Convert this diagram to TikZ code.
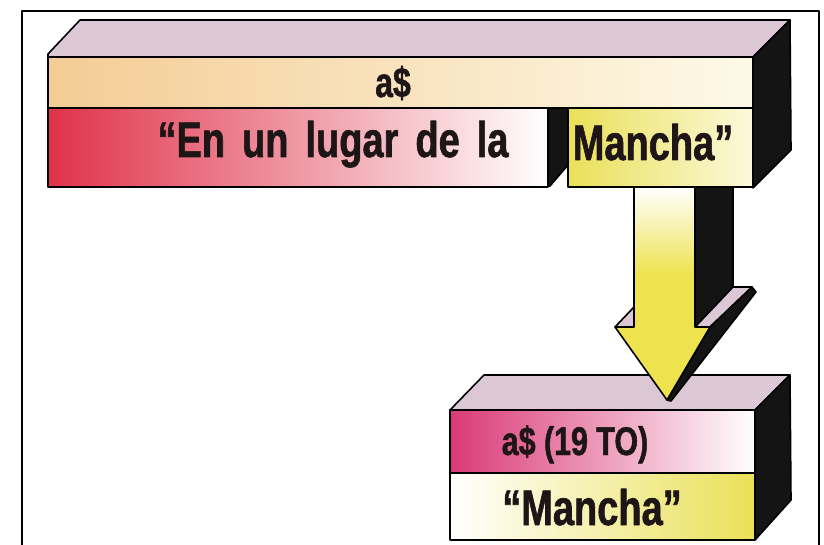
\documentclass[tikz,border=0pt]{standalone}
\usepackage{fontspec}
\newfontfamily\cond[FakeStretch=0.76,FakeBold=1.2]{Liberation Sans}
\definecolor{lidc}{RGB}{220,200,212}
\definecolor{peach}{RGB}{244,204,148}
\definecolor{cream}{RGB}{253,250,232}
\definecolor{redc}{RGB}{224,50,74}
\definecolor{redm}{RGB}{232,105,130}
\definecolor{yelc}{RGB}{234,224,88}
\definecolor{yelp}{RGB}{251,249,220}
\definecolor{magc}{RGB}{218,58,118}
\definecolor{magm}{RGB}{238,172,200}
\definecolor{yelm}{RGB}{246,238,160}
\definecolor{arrowy}{RGB}{238,226,78}
\definecolor{inkc}{RGB}{30,22,22}
\begin{document}
\begin{tikzpicture}[x=1pt,y=-1pt,line join=round]
\tikzset{
  edge/.style={draw=black,line width=1.6pt},
  side/.style={edge,fill=black!92},
  lid/.style={edge,fill=lidc},
  cell/.style={rectangle,edge,inner sep=0pt,outer sep=0pt},
  txt/.style={inner sep=0pt,anchor=base,text=inkc,font=\cond\bfseries\fontsize{50}{54}\selectfont},
  smalltxt/.style={txt,font=\cond\bfseries\fontsize{42}{46}\selectfont},
  midtxt/.style={txt,font=\cond\bfseries\fontsize{40}{44}\selectfont},
}
\useasboundingbox (0,0) rectangle (824,545);
% frame
\draw[line width=1.3pt] (22,545) -- (22,11) -- (819,11) -- (819,545);
% top box
\path[lid] (80,20) -- (790,20) -- (753,57) -- (48,57) -- (48,54) -- cycle;
\path[side] (753,57) -- (790,20) -- (791,150) -- (753,188) -- cycle;
\path[side] (548,108) -- (568,108) -- (568,165) -- (550,186) -- (548,186) -- cycle;
\node[cell,minimum width=705,minimum height=51,left color=peach,right color=cream] (rowa) at (400.5,82.5) {};
\node[cell,minimum width=500,minimum height=79,left color=redc,middle color=redm,right color=white] (rowl) at (298,147.5) {};
\node[cell,minimum width=185,minimum height=79,left color=yelc,right color=yelp] (rowm) at (660.5,147.5) {};
% bottom box
\path[lid] (484,375) -- (790,375) -- (755,410) -- (450,410) -- cycle;
\path[side] (755,410) -- (790,375) -- (791,500) -- (755,540) -- cycle;
\node[cell,minimum width=305,minimum height=63,left color=magc,middle color=magm,right color=white] (rowb) at (602.5,441.5) {};
\node[cell,minimum width=305,minimum height=67,left color=white,middle color=yelm,right color=yelc] (rowc) at (602.5,506.5) {};
% arrow
\path[side] (695,187) -- (733,187) -- (733,287) -- (695,327) -- cycle;
\path[lid] (695,327) -- (733,287) -- (752,287) -- (710,327) -- cycle;
\path[side] (710,327) -- (752,287) -- (756,292) -- (671,401) -- (667,400) -- cycle;
\path[lid] (615,327) -- (634,307) -- (634,327) -- cycle;
\path[fill=arrowy] (634,187) -- (695,187) -- (695,327) -- (710,327) -- (667,400) -- (615,327) -- (634,327) -- cycle;
\shade[top color=white,bottom color=arrowy] (634,187) rectangle (695,275);
\path[edge] (634,187) -- (695,187) -- (695,327) -- (710,327) -- (667,400) -- (615,327) -- (634,327) -- cycle;
% texts
\node[smalltxt] (ta) at (393,97) {a\$};
\node[txt] (tl) at (333,157) {\spaceskip=17pt\relax “En un lugar de la};
\node[txt] (tm) at (653,160) {Mancha”};
\node[midtxt] (tb) at (575,455) {a\$ (19 TO)};
\node[txt] (tc) at (592,525) {“Mancha”};
\end{tikzpicture}
\end{document}
